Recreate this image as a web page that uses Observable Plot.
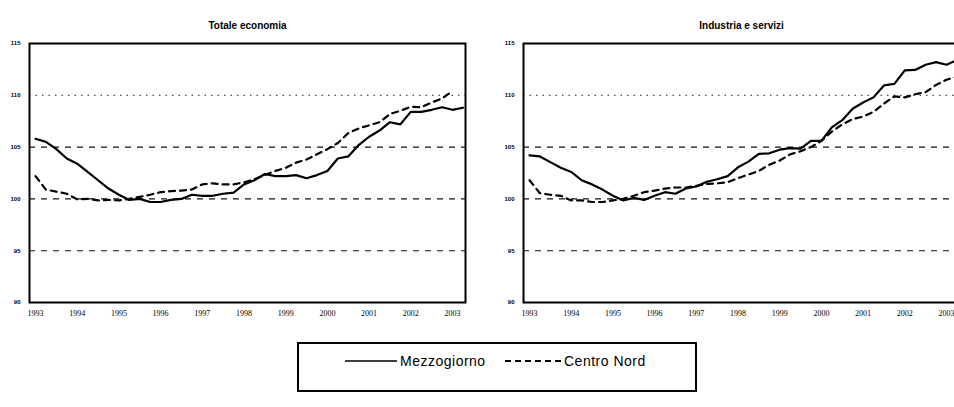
<!DOCTYPE html>
<html>
<head>
<meta charset="utf-8">
<script src="https://cdn.jsdelivr.net/npm/d3@7"></script>
<script src="https://cdn.jsdelivr.net/npm/@observablehq/plot@0.6"></script>
<style>
  html, body { margin: 0; padding: 0; background: #fff; }
  #page { position: relative; width: 954px; height: 407px; overflow: hidden; background: #fff; }
  .panel { position: absolute; top: 0; width: 490px; }
  .panel svg { max-width: none !important; display: block; }
  #legend { position: absolute; left: 297px; top: 342px; width: 400px; height: 50px;
            border: 2px solid #000; box-sizing: border-box; font-family: "Liberation Sans", Arial, sans-serif; }
</style>
</head>
<body>
<div id="page">
  <div id="left" class="panel" style="left:0px"></div>
  <div id="right" class="panel" style="left:477px"></div>
  <div id="legend"></div>
</div>
<script>
// Quarterly time points
const periods = [1993, 1993.25, 1993.5, 1993.75, 1994, 1994.25, 1994.5, 1994.75,
  1995, 1995.25, 1995.5, 1995.75, 1996, 1996.25, 1996.5, 1996.75,
  1997, 1997.25, 1997.5, 1997.75, 1998, 1998.25, 1998.5, 1998.75,
  1999, 1999.25, 1999.5, 1999.75, 2000, 2000.25, 2000.5, 2000.75,
  2001, 2001.25, 2001.5, 2001.75, 2002, 2002.25, 2002.5, 2002.75,
  2003, 2003.25];

const seriesNames = ["Mezzogiorno", "Centro Nord"];
const panelTitles = ["Totale economia", "Industria e servizi"];

// Totale economia
const totMezzogiorno = [105.8, 105.5, 104.8, 103.9, 103.4, 102.6, 101.8, 101.0,
  100.4, 99.9, 100.0, 99.7, 99.7, 99.9, 100.0, 100.4,
  100.3, 100.3, 100.5, 100.6, 101.4, 101.8, 102.4, 102.2,
  102.2, 102.3, 102.0, 102.3, 102.7, 103.9, 104.1, 105.2,
  106.0, 106.6, 107.4, 107.2, 108.4, 108.4, 108.6, 108.85,
  108.6, 108.8];
const totCentroNord = [102.2, 100.9, 100.7, 100.5, 99.95, 100.0, 99.85, 99.9,
  99.85, 100.0, 100.2, 100.4, 100.65, 100.75, 100.8, 100.9,
  101.4, 101.5, 101.4, 101.4, 101.6, 101.9, 102.3, 102.7,
  103.0, 103.5, 103.8, 104.3, 104.8, 105.4, 106.35, 106.8,
  107.1, 107.4, 108.2, 108.5, 108.9, 108.85, 109.3, 109.7,
  110.4];

// Industria e servizi
const indMezzogiorno = [104.2, 104.1, 103.55, 103.0, 102.6, 101.8, 101.4, 100.9,
  100.3, 99.85, 100.1, 99.9, 100.3, 100.65, 100.5, 101.0,
  101.2, 101.65, 101.9, 102.2, 103.05, 103.6, 104.35, 104.4,
  104.75, 104.9, 104.85, 105.6, 105.6, 106.9, 107.6, 108.7,
  109.3, 109.8, 110.95, 111.1, 112.4, 112.45, 112.95, 113.2,
  112.95, 113.4];
const indCentroNord = [101.8, 100.55, 100.4, 100.3, 99.85, 99.85, 99.7, 99.7,
  99.85, 100.0, 100.3, 100.65, 100.8, 101.0, 101.1, 101.1,
  101.25, 101.45, 101.5, 101.6, 102.0, 102.35, 102.7, 103.3,
  103.7, 104.3, 104.6, 105.0, 105.6, 106.5, 107.2, 107.7,
  107.95, 108.4, 109.2, 109.9, 109.8, 110.1, 110.3, 111.0,
  111.5, 111.8];

const yTicks = [90, 95, 100, 105, 110, 115];
const xTicks = [1993, 1994, 1995, 1996, 1997, 1998, 1999, 2000, 2001, 2002, 2003];
const dottedGrid = [110];
const dashedGrid = [95, 100, 105];

function rows(values, name) {
  return values.map((v, i) => ({t: periods[i], v, s: name}));
}

function panel(title, mezz, cn, opts) {
  const data = rows(mezz, seriesNames[0]).concat(rows(cn, seriesNames[1]));
  return Plot.plot({
    width: opts.width,
    height: 330,
    marginLeft: opts.marginLeft,
    marginRight: opts.marginRight,
    marginTop: 43,
    marginBottom: 28,
    style: {background: "white", overflow: "visible", maxWidth: "none", color: "black"},
    x: {domain: [1992.856, 2003.312]},
    y: {domain: [90, 115]},
    marks: [
      Plot.ruleY(dottedGrid, {stroke: "#222", strokeWidth: 1, strokeDasharray: "1.5,5"}),
      Plot.ruleY(dashedGrid, {stroke: "#111", strokeWidth: 1.1, strokeDasharray: "6,6"}),
      Plot.lineY(data.filter(d => d.s === seriesNames[1]), {x: "t", y: "v", stroke: "black", strokeWidth: 2.2, strokeDasharray: "6,5"}),
      Plot.lineY(data.filter(d => d.s === seriesNames[0]), {x: "t", y: "v", stroke: "black", strokeWidth: 2.2}),
      Plot.frame({stroke: "black", strokeWidth: 2}),
      Plot.axisY(yTicks, {tickSize: 0, tickPadding: 9, fontSize: 6, fontFamily: "Liberation Sans, Arial, sans-serif", fontWeight: "bold", fill: "black", label: null}),
      Plot.axisX(xTicks, {tickSize: 0, tickPadding: 8, fontSize: 8, fontFamily: "Liberation Serif, Times New Roman, serif", fill: "black", tickFormat: d => String(d), label: null}),
      Plot.text([title], {frameAnchor: "top", dy: -22, fontSize: 10, fontWeight: "bold", fontFamily: "Liberation Sans, Arial, sans-serif", fill: "black"})
    ]
  });
}

document.getElementById("left").appendChild(
  panel(panelTitles[0], totMezzogiorno, totCentroNord, {width: 477, marginLeft: 29, marginRight: 12}));
document.getElementById("right").appendChild(
  panel(panelTitles[1], indMezzogiorno, indCentroNord, {width: 490, marginLeft: 46, marginRight: 8}));

// Legend
const lg = document.getElementById("legend");
lg.innerHTML = `<svg width="396" height="46" style="display:block">
  <line x1="46" x2="98" y1="17" y2="17" stroke="black" stroke-width="1.6"></line>
  <text x="101" y="22" font-size="14" letter-spacing="0.5" font-family="Liberation Sans, Arial, sans-serif">${seriesNames[0]}</text>
  <line x1="206" x2="263" y1="17" y2="17" stroke="black" stroke-width="1.8" stroke-dasharray="6,4"></line>
  <text x="265" y="22" font-size="14" letter-spacing="0.5" font-family="Liberation Sans, Arial, sans-serif">${seriesNames[1]}</text>
</svg>`;
</script>
</body>
</html>
